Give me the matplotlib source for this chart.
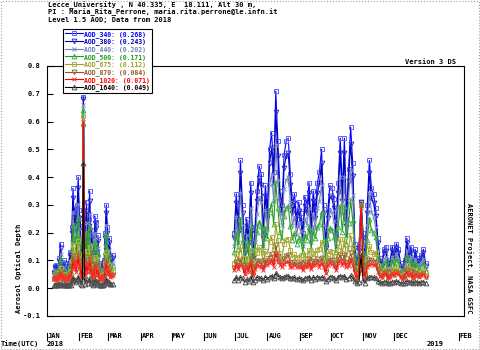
import numpy as np
import matplotlib
matplotlib.use("Agg")
import matplotlib.pyplot as plt
import matplotlib.transforms as mtransforms
from matplotlib.patches import Rectangle

# day of year 2018 (1 = Jan 1)
winter_days = list(range(8, 65))
summer_days = list(range(181, 366, 2))

# winter AOD, one value per day
w340 = [0.06, 0.08, 0.085, 0.05, 0.07, 0.11, 0.16, 0.09, 0.06, 0.10, 0.07, 0.05, 0.08, 0.06, 0.09, 0.13, 0.08, 0.22, 0.36, 0.26,
        0.29, 0.18, 0.30, 0.40, 0.28, 0.24, 0.12, 0.09, 0.69, 0.31, 0.12, 0.31, 0.17, 0.25, 0.35, 0.16, 0.21, 0.08, 0.12, 0.26,
        0.24, 0.13, 0.19, 0.09, 0.06, 0.07, 0.09, 0.05, 0.10, 0.20, 0.30, 0.22, 0.14, 0.18, 0.10, 0.11, 0.12]
w380 = [.054, .072, .077, .045, .063, .099, .144, .081, .054, .09, .063, .045, .072, .054, .081, .117, .072, .198, .324, .234,
        .261, .162, .27, .36, .252, .216, .108, .081, .68, .279, .108, .279, .153, .225, .315, .144, .189, .072, .108, .234,
        .216, .117, .171, .081, .054, .063, .081, .045, .09, .18, .27, .198, .126, .162, .09, .099, .108]
w440 = [.046, .061, .065, .038, .053, .084, .122, .068, .046, .076, .053, .038, .061, .046, .068, .099, .061, .167, .274, .198,
        .22, .137, .228, .304, .213, .182, .091, .068, .66, .236, .091, .236, .129, .19, .266, .122, .16, .061, .091, .198,
        .182, .099, .144, .068, .046, .053, .068, .038, .076, .152, .228, .167, .106, .137, .076, .084, .091]
w500 = [.042, .055, .058, .036, .048, .073, .104, .061, .042, .067, .048, .036, .055, .042, .061, .086, .055, .141, .228, .166,
        .185, .117, .191, .253, .179, .154, .079, .061, .64, .197, .079, .197, .11, .16, .222, .104, .135, .055, .079, .166,
        .154, .086, .123, .061, .042, .048, .061, .036, .067, .129, .191, .141, .092, .117, .067, .073, .079]
w675 = [.034, .042, .044, .03, .038, .054, .074, .046, .034, .05, .038, .03, .042, .034, .046, .062, .042, .098, .154, .114,
        .126, .082, .13, .17, .122, .106, .058, .046, .62, .134, .058, .134, .078, .11, .15, .074, .094, .042, .058, .114,
        .106, .062, .086, .046, .034, .038, .046, .03, .05, .09, .13, .098, .066, .082, .05, .054, .058]
w870 = [.032, .037, .039, .029, .035, .046, .06, .04, .032, .043, .035, .029, .037, .032, .04, .051, .037, .077, .116, .088,
        .096, .065, .099, .127, .093, .082, .049, .04, .58, .102, .049, .102, .063, .085, .113, .06, .074, .037, .049, .088,
        .082, .051, .068, .04, .032, .035, .04, .029, .043, .071, .099, .077, .054, .065, .043, .046, .049]
w1020 = [.033, .038, .039, .031, .035, .044, .055, .04, .033, .042, .035, .031, .038, .033, .04, .049, .038, .068, .099, .077,
         .084, .06, .086, .108, .082, .073, .046, .04, .60, .088, .046, .088, .057, .075, .097, .055, .066, .038, .046, .077,
         .073, .049, .062, .04, .033, .035, .04, .031, .042, .064, .086, .068, .051, .06, .042, .044, .046]
w1640 = [.01, .012, .013, .01, .011, .015, .019, .013, .01, .014, .011, .01, .012, .01, .013, .017, .012, .025, .037, .028,
         .031, .021, .032, .041, .03, .027, .016, .013, .45, .033, .016, .033, .02, .028, .037, .019, .024, .012, .016, .028,
         .027, .017, .022, .013, .01, .011, .013, .01, .014, .023, .032, .025, .018, .021, .014, .015, .016]

# summer/autumn AOD, every second day
s340 = [0.20, 0.34, 0.22, 0.46, 0.30, 0.14, 0.25, 0.18, 0.38, 0.12, 0.22, 0.35, 0.44, 0.41, 0.20, 0.37, 0.28, 0.50, 0.56, 0.42,
        0.71, 0.53, 0.35, 0.30, 0.48, 0.53, 0.54, 0.41, 0.30, 0.34, 0.25, 0.31, 0.27, 0.20, 0.33, 0.30, 0.38, 0.22, 0.35, 0.28,
        0.38, 0.42, 0.50, 0.30, 0.16, 0.28, 0.37, 0.36, 0.32, 0.20, 0.38, 0.54, 0.35, 0.54, 0.25, 0.43, 0.58, 0.45, 0.16, 0.08,
        0.15, 0.31, 0.20, 0.10, 0.30, 0.46, 0.36, 0.34, 0.29, 0.18, 0.11, 0.09, 0.14, 0.15, 0.08, 0.10, 0.15, 0.12, 0.16, 0.14,
        0.09, 0.07, 0.10, 0.18, 0.12, 0.15, 0.08, 0.14, 0.11, 0.10, 0.12, 0.14, 0.09]
s380 = [.18, .306, .198, .414, .27, .126, .225, .162, .342, .108, .198, .315, .396, .37, .18, .333, .252, .45, .504, .378,
        .635, .477, .315, .27, .432, .477, .486, .37, .27, .306, .225, .279, .243, .18, .297, .27, .342, .198, .315, .252,
        .342, .378, .45, .27, .144, .252, .333, .324, .288, .18, .342, .486, .315, .486, .225, .387, .52, .405, .144, .072,
        .135, .31, .18, .09, .27, .414, .324, .306, .261, .162, .099, .081, .126, .135, .072, .09, .135, .108, .144, .126,
        .081, .063, .09, .162, .108, .135, .072, .126, .099, .09, .108, .126, .081]
s440 = [.152, .258, .167, .343, .228, .106, .19, .137, .289, .091, .167, .266, .33, .31, .152, .281, .213, .37, .41, .315,
        .515, .39, .266, .228, .357, .39, .40, .31, .228, .258, .19, .236, .205, .152, .251, .228, .289, .167, .266, .213,
        .289, .315, .37, .228, .122, .213, .281, .274, .243, .152, .289, .40, .266, .40, .19, .32, .425, .335, .122, .061,
        .114, .30, .152, .076, .228, .343, .274, .258, .22, .137, .084, .068, .106, .114, .061, .076, .114, .091, .122, .106,
        .068, .053, .076, .137, .091, .114, .061, .106, .084, .076, .091, .106, .068]
s500 = [.129, .197, .141, .25, .175, .092, .16, .117, .22, .079, .141, .203, .24, .225, .129, .215, .179, .275, .305, .23,
        .38, .29, .203, .175, .26, .29, .295, .225, .175, .197, .16, .18, .172, .129, .19, .175, .22, .141, .203, .179,
        .22, .23, .275, .175, .104, .179, .215, .21, .185, .129, .22, .295, .203, .295, .16, .235, .315, .245, .104, .055,
        .098, .30, .129, .067, .175, .25, .21, .197, .185, .117, .073, .061, .092, .098, .055, .067, .098, .079, .104, .092,
        .061, .048, .067, .117, .079, .098, .055, .092, .073, .067, .079, .092, .061]
s675 = [.09, .122, .098, .153, .108, .066, .11, .082, .137, .058, .098, .126, .147, .138, .09, .133, .122, .165, .185, .14,
        .23, .175, .126, .108, .16, .175, .178, .138, .108, .122, .11, .112, .118, .09, .119, .108, .137, .098, .126, .122,
        .137, .14, .165, .108, .074, .122, .133, .13, .115, .09, .137, .178, .126, .178, .11, .143, .19, .15, .074, .042,
        .07, .30, .09, .05, .108, .153, .13, .122, .126, .082, .054, .046, .066, .07, .042, .05, .07, .058, .074, .066,
        .046, .038, .05, .082, .058, .07, .042, .066, .054, .05, .058, .066, .046]
s870 = [.071, .095, .077, .102, .085, .054, .085, .065, .105, .049, .077, .098, .098, .092, .071, .103, .093, .11, .123, .094,
        .155, .117, .098, .085, .106, .117, .119, .092, .085, .095, .085, .088, .091, .071, .093, .085, .105, .077, .098, .093,
        .105, .094, .11, .085, .06, .093, .103, .10, .09, .071, .105, .119, .098, .119, .085, .096, .127, .10, .06, .037,
        .057, .30, .071, .043, .085, .102, .10, .095, .096, .065, .046, .04, .054, .057, .037, .043, .057, .049, .06, .054,
        .04, .035, .043, .065, .049, .057, .037, .054, .046, .043, .049, .054, .04]
s1020 = [.064, .083, .068, .084, .075, .051, .075, .06, .091, .046, .068, .085, .081, .077, .064, .089, .082, .09, .10, .078,
         .125, .095, .085, .075, .087, .095, .097, .077, .075, .083, .075, .077, .079, .064, .081, .075, .091, .068, .085, .082,
         .091, .078, .09, .075, .055, .082, .089, .087, .079, .064, .091, .097, .085, .097, .075, .079, .104, .082, .055, .038,
         .053, .29, .064, .042, .075, .084, .087, .083, .084, .06, .044, .04, .051, .053, .038, .042, .053, .046, .055, .051,
         .04, .035, .042, .06, .046, .053, .038, .051, .044, .042, .046, .051, .04]
s1640 = [.028, .039, .03, .039, .036, .023, .032, .026, .042, .022, .03, .04, .037, .036, .028, .042, .034, .041, .045, .036,
         .055, .043, .04, .036, .04, .043, .044, .036, .036, .039, .032, .037, .034, .028, .038, .036, .042, .03, .04, .034,
         .042, .036, .041, .036, .025, .034, .042, .041, .038, .028, .042, .044, .04, .044, .032, .037, .046, .038, .025, .018,
         .024, .12, .028, .02, .036, .039, .041, .039, .035, .026, .021, .019, .023, .024, .018, .02, .024, .022, .025, .023,
         .019, .017, .02, .026, .022, .024, .018, .023, .021, .02, .022, .023, .019]

names = ["AOD_340", "AOD_380", "AOD_440", "AOD_500", "AOD_675", "AOD_870", "AOD_1020", "AOD_1640"]
means = ["0.268", "0.243", "0.202", "0.171", "0.112", "0.084", "0.071", "0.049"]
winter = [w340, w380, w440, w500, w675, w870, w1020, w1640]
summer = [s340, s380, s440, s500, s675, s870, s1020, s1640]

colors = ["#0000ff", "#0000b0", "#7080b8", "#209a20", "#a0a020", "#8b5a2b", "#ff0000", "#000000"]
edge = ["#6060ff", "#3030d0", "#8090c8", "#40b040", "#b0b040", "#9a6a3a", "#ff3030", "#505050"]
markers = ["s", "v", "x", "^", "s", "v", "x", "^"]

month_days = [1, 32, 60, 91, 121, 152, 182, 213, 244, 274, 305, 335, 397]
month_names = ["JAN", "FEB", "MAR", "APR", "MAY", "JUN", "JUL", "AUG", "SEP", "OCT", "NOV", "DEC", "FEB"]

W, H = 480, 350
mono = "DejaVu Sans Mono"
fs = 5.0

fig = plt.figure(figsize=(W / 100, H / 100), dpi=100)
ax = fig.add_axes([47 / W, 1 - 316 / H, (464 - 47) / W, (316 - 66) / H])


def ftext(x, y, s, **kw):
    kw.setdefault("fontsize", fs)
    kw.setdefault("family", mono)
    kw.setdefault("fontweight", "bold")
    return fig.text(x / W, 1 - y / H, s, **kw)


handles = []
for i in range(8):
    for days, vals in [(winter_days, winter[i]), (summer_days, summer[i])]:
        ln, = ax.plot(days, vals, color=colors[i], lw=0.8, marker=markers[i], ms=3.4,
                      mfc="none", mec=edge[i], mew=0.7)
    handles.append(ln)

ax.set_xlim(1, 402)
ax.set_ylim(-0.1, 0.8)
ax.set_yticks(np.arange(-0.1, 0.81, 0.1))
ax.set_yticklabels(["%.1f" % v for v in np.arange(-0.1, 0.81, 0.1)], family=mono, fontsize=fs, fontweight="bold")
ax.tick_params(axis="y", direction="in", length=4, width=0.8, pad=5)
ax.tick_params(axis="x", length=0)
ax.set_xticks([])
for sp in ax.spines.values():
    sp.set_linewidth(0.8)

trans = mtransforms.blended_transform_factory(ax.transData, ax.transAxes)
for d, m in zip(month_days, month_names):
    ax.text(d + 1, -0.082, m, transform=trans, ha="left", va="center", family=mono,
            fontsize=fs, fontweight="bold", clip_on=False)
    ax.plot([d, d], [-0.066, -0.094], transform=trans, color="black", lw=0.8, clip_on=False)

ftext(47, 344, "2018", va="center")
ftext(427, 344, "2019", va="center")
ftext(1, 344, "Time(UTC)", va="center")

ftext(48, 5, "Lecce_University , N 40.335, E  18.111, Alt 30 m,", va="center")
ftext(48, 12.5, "PI : Maria_Rita_Perrone, maria.rita.perrone@le.infn.it", va="center")
ftext(48, 20, "Level 1.5 AOD; Data from 2018", va="center")
ftext(456, 62, "Version 3 DS", ha="right", va="center")
ftext(19, 268, "Aerosol Optical Depth", rotation=90, ha="center", va="center")
ftext(469, 258, "AERONET Project, NASA GSFC", rotation=270, ha="center", va="center")

leg = fig.legend(handles, ["%s: (%s)" % (n, m) for n, m in zip(names, means)],
                 loc="upper left", bbox_to_anchor=(63 / W, 1 - 29 / H),
                 prop={"family": mono, "size": 4.7, "weight": "bold"},
                 labelcolor="linecolor", frameon=True, fancybox=False,
                 edgecolor="black", framealpha=1, borderpad=0.25, labelspacing=0.12,
                 handlelength=2.8, handletextpad=0.2, borderaxespad=0)
leg.get_frame().set_linewidth(0.8)
leg.set_zorder(10)

fig.patches.append(Rectangle((0.002, 0.002), 0.996, 0.996, transform=fig.transFigure,
                             fill=False, ec="#a0a0a0", lw=0.8, ls=":"))

fig.savefig("out.png", dpi=100)
